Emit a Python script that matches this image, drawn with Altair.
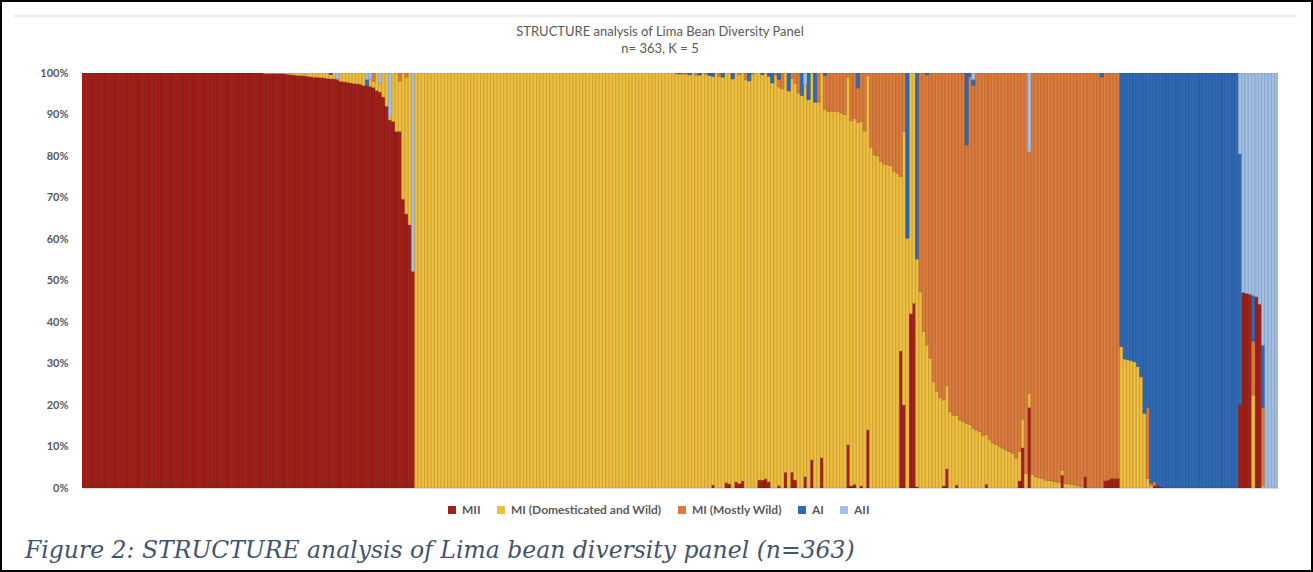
import altair as alt
import pandas as pd

SERIES = ["MII", "MI (Domesticated and Wild)", "MI (Mostly Wild)", "AI", "AII"]
COLORS = ["#A31E16", "#EFBE3D", "#DC7B3B", "#2E6AB6", "#A2C0E3"]
EDGES = ["#6E1410", "#B08C2C", "#A35A2A", "#1E4A82", "#7490B4"]

TITLE = "STRUCTURE analysis of Lima Bean Diversity Panel"
SUBTITLE = "n= 363, K = 5"
CAPTION = "Figure 2: STRUCTURE analysis of Lima bean diversity panel (n=363)"

# ---- Group 1: samples assigned to MII (101 bars) ----
g1_n = 101
g1_mii = [100] * 55 + [99.9] * 6 + [
    99.8, 99.7, 99.6, 99.5, 99.4, 99.4, 99.3, 99.2, 99.1, 99.0,
    99.0, 98.9, 98.8, 98.7, 98.6, 98.6, 98.5, 98.0, 97.9, 97.8,
    97.6, 97.5, 97.4, 97.3, 97.0, 96.9, 96.8, 96.5, 95.8, 95.4,
    94.2, 92.0, 88.7, 88.3, 85.9, 85.9, 69.6, 66.0, 63.4, 52.2]
g1_mid = [0] * 55 + [0.1] * 6 + [
    0.2, 0.3, 0.4, 0.5, 0.6, 0.6, 0.3, 0.8, 0.9, 1.0,
    1.0, 1.1, 1.2, 1.3, 1.0, 1.4, 0.1, 2.0, 2.1, 2.2,
    2.4, 2.5, 2.6, 2.7, 3.0, 0, 1.7, 1.5, 4.2, 2.1,
    5.8, 8.0, 0.8, 11.7, 14.1, 12.2, 30.4, 33.0, 36.6, 0]
g1_mw = {88: 2.0, 96: 1.9, 98: 1.0}
g1_ai = {75: 0.4, 86: 1.5}
g1_aii = {67: 0.4, 77: 1.4, 86: 1.6, 87: 1.5, 90: 2.5, 93: 10.5, 100: 47.8}

# ---- Group 2: MI (Domesticated and Wild) (153 bars) ----
g2_n = 153
g2_mid = [100] * 79 + [
    99.8, 99.8, 99.8, 99.7, 99.6, 100, 99.5, 99.5, 100, 99.7, 99.4,
    98.5, 100, 99.2, 99.0, 98.7, 99.0, 98.6, 98.5, 98.5, 98.3, 98.4,
    98.1, 99.7, 100, 98.1, 97.7, 97.8, 97.7, 97.6, 99.5, 96.1, 96.2,
    96.2, 95.7, 95.0, 95.7, 95.2, 94.6, 94.5, 93.6, 93.2, 93.0, 93.0,
    92.7, 91.3, 90.8, 90.8, 90.8, 90.7, 90.4, 90.0, 88.6, 88.0, 88.2,
    88.1, 87.8, 86.1, 85.4, 82.1, 80.3, 80.1, 78.7, 78.1, 77.9, 77.7,
    76.4, 75.9, 42.1, 65.9, 60.2, 58.0, 55.5, 54.9]
g2_mii = {90: 0.7, 94: 1.3, 95: 1.0, 97: 1.5, 98: 1.1, 99: 1.7, 104: 1.9, 105: 1.9,
          106: 2.2, 107: 1.5, 110: 0.6, 112: 3.8, 114: 3.8, 115: 1.9, 118: 2.7,
          120: 6.8, 123: 7.3, 131: 10.4, 132: 0.5, 133: 0.9, 135: 0.5, 137: 14.0,
          147: 33.0, 148: 20.0, 150: 42.0, 151: 44.5, 152: 0.3}
g2_mw = {79: 0.2, 81: 0.2, 82: 0.3, 85: 0.5, 88: 0.3, 92: 0.8, 98: 0.4, 100: 1.6,
         102: 0.3, 109: 0.5, 110: 1.8, 111: 3.8, 114: 1.2, 115: 2.4, 116: 4.8,
         122: 7.0, 124: 8.1, 125: 9.2, 126: 9.2, 127: 9.2, 128: 9.3, 129: 9.6,
         130: 10.0, 131: 1.0, 132: 11.5, 133: 10.9, 134: 8.3, 135: 11.7, 136: 13.9,
         137: 0.6, 138: 17.9, 139: 19.7, 140: 19.9, 141: 21.3, 142: 21.9, 143: 22.1,
         144: 22.3, 145: 23.6, 146: 24.1, 147: 24.9, 148: 14.1}
g2_ai = {80: 0.2, 83: 0.4, 86: 0.5, 89: 0.6, 90: 0.8, 93: 1.0, 96: 1.4, 101: 1.9,
         105: 0.4, 107: 0.8, 108: 2.4, 110: 1.5, 113: 4.3, 117: 5.4, 119: 6.4,
         121: 7.0, 124: 0.6, 134: 3.6, 149: 39.8, 152: 44.8}
g2_aii = {118: 2.8}

# ---- Group 3: MI (Mostly Wild) (61 bars) ----
g3_n = 61
g3_mid = [47.3, 37.7, 34.5, 31.3, 25.6, 23.4, 21.8, 20.7, 20.1, 18.4,
          17.6, 16.8, 16.4, 16.0, 15.6, 15.3, 14.4, 14.0, 13.6, 12.6,
          12.0, 11.6, 10.8, 10.5, 10.0, 9.6, 9.2, 8.8, 8.4, 7.2,
          7.1, 6.9, 3.5, 3.5, 3.3, 2.7, 2.5, 2.3, 1.9, 1.8,
          1.7, 1.5, 1.4, 1.2, 1.1, 1.0, 0.9, 0.7, 0.5, 0.3,
          0, 0, 0, 0, 0, 0, 0, 0, 0, 0, 0]
g3_mw = [52.7, 62.3, 65.1, 68.7, 74.4, 76.6, 78.2, 78.8, 75.3, 81.6,
         82.4, 82.5, 83.6, 84.0, 67.1, 83.9, 82.6, 86.0, 86.4, 87.4,
         87.1, 88.4, 89.2, 89.5, 90.0, 90.4, 90.8, 91.2, 91.6, 92.8,
         91.2, 83.4, 96.5, 58.1, 96.7, 97.3, 97.5, 97.7, 98.1, 98.2,
         98.3, 98.5, 98.6, 95.7, 98.9, 99.0, 99.1, 99.3, 99.5, 99.7,
         97.3, 100, 100, 100, 100, 99.0, 98.3, 98.1, 97.7, 97.7, 97.7]
g3_mii = {7: 0.5, 8: 4.6, 11: 0.7, 20: 0.9, 30: 1.7, 31: 9.7, 33: 19.4, 43: 3.1,
          50: 2.7, 56: 1.7, 57: 1.9, 58: 2.3, 59: 2.3, 60: 2.3}
g3_ai = {2: 0.4, 14: 17.3, 15: 0.8, 16: 1.4, 55: 1.0}
g3_aii = {16: 1.6, 33: 19.0}

# ---- Group 4: AI (36 bars) ----
g4_n = 36
g4_ai = [65.9, 68.9, 69.1, 69.3, 69.6, 70.7, 73.2, 82.0, 80.6, 98.8, 98.4, 99.5, 99.7] + [100] * 23
g4_mid = {0: 34.1, 1: 31.1, 2: 30.9, 3: 30.7, 4: 30.4, 5: 29.3, 6: 26.8, 7: 18.0, 8: 2.3, 9: 0.6}
g4_mw = {8: 17.1, 9: 0.6, 10: 1.1}
g4_mii = {10: 0.5, 11: 0.5, 12: 0.3}

# ---- Group 5: AII (12 bars) ----
g5_n = 12
g5_aii = [19.5, 52.9, 53.1, 53.3, 53.6, 53.9, 55.7, 65.6, 100, 100, 100, 100]
g5_mii = {0: 20.0, 1: 47.1, 2: 46.9, 3: 46.7, 5: 46.1, 6: 44.3}
g5_mid = {4: 22.4, 7: 0.6}
g5_mw = {4: 13.0, 7: 18.8}
g5_ai = {0: 60.5, 4: 11.0, 7: 15.0}

groups = [
    (g1_n, [g1_mii, g1_mid, g1_mw, g1_ai, g1_aii]),
    (g2_n, [g2_mii, g2_mid, g2_mw, g2_ai, g2_aii]),
    (g3_n, [g3_mii, g3_mid, g3_mw, g3_ai, g3_aii]),
    (g4_n, [g4_mii, g4_mid, g4_mw, g4_ai, {}]),
    (g5_n, [g5_mii, g5_mid, g5_mw, g5_ai, g5_aii]),
]

rows = []
offset = 0
for n, comps in groups:
    for k, comp in enumerate(comps):
        if isinstance(comp, dict):
            vals = [comp.get(i, 0) for i in range(n)]
        else:
            vals = comp
        for i, v in enumerate(vals):
            if v > 0:
                rows.append({"bar": offset + i, "cluster": SERIES[k], "k": k, "pct": v})
    offset += n
df = pd.DataFrame(rows)

W, H = 1196, 415
PL, PT, PR, PB = 82, 73, 35, 84

bars = alt.Chart(df).mark_bar(strokeWidth=0.5, clip=True).encode(
    x=alt.X("bar:O", scale=alt.Scale(paddingInner=0, paddingOuter=0),
            axis=alt.Axis(labels=False, ticks=False, title=None, domainColor="#d9d9d9")),
    y=alt.Y("pct:Q", stack="zero", scale=alt.Scale(domain=[0, 100], nice=False),
            axis=alt.Axis(values=[0, 10, 20, 30, 40, 50, 60, 70, 80, 90, 100],
                          labelExpr="datum.value + '%'", grid=False, domain=False,
                          ticks=False, title=None, labelFont="Lato", labelFontSize=11,
                          labelFontWeight="bold", labelColor="#595959", labelPadding=14)),
    color=alt.Color("cluster:N", scale=alt.Scale(domain=SERIES, range=COLORS),
                    legend=alt.Legend(orient="none", legendX=364, legendY=431,
                                      direction="horizontal", title=None,
                                      symbolType="square", symbolSize=64,
                                      symbolStrokeWidth=0, labelFont="Lato",
                                      labelFontSize=12, labelFontWeight="bold",
                                      labelColor="#595959", labelOffset=4,
                                      columnPadding=14)),
    stroke=alt.Stroke("cluster:N", scale=alt.Scale(domain=SERIES, range=EDGES), legend=None),
    order=alt.Order("k:Q", sort="ascending"),
)

one = pd.DataFrame({"t": [TITLE], "s": [SUBTITLE], "c": [CAPTION]})

title1 = alt.Chart(one).mark_text(font="Lato", fontSize=13, color="#595959",
                                  baseline="middle").encode(
    text="t:N", x=alt.value(578), y=alt.value(-41))
title2 = alt.Chart(one).mark_text(font="Lato", fontSize=13, color="#595959",
                                  baseline="middle").encode(
    text="s:N", x=alt.value(578), y=alt.value(-24))
caption = alt.Chart(one).mark_text(font="DejaVu Serif", fontStyle="italic", fontSize=23.5,
                                   color="#44546A", align="left",
                                   baseline="alphabetic").encode(
    text="c:N", x=alt.value(-57), y=alt.value(485))
topline = alt.Chart(one).mark_rule(color="#d9d9d9", strokeWidth=1).encode(
    x=alt.value(-68), x2=alt.value(1215), y=alt.value(-57))
frame = alt.Chart(one).mark_rect(fill="white", fillOpacity=0, stroke="black",
                                 strokeWidth=2).encode(
    x=alt.value(-81), x2=alt.value(1230), y=alt.value(-72), y2=alt.value(498))

chart = alt.layer(bars, title1, title2, caption, topline, frame).properties(
    width=W, height=H,
    autosize=alt.AutoSizeParams(type="none"),
    padding={"left": PL, "top": PT, "right": PR, "bottom": PB},
    background="white",
).configure_view(stroke=None)

chart.save("out.html", embed_options={"renderer": "svg", "actions": False})
